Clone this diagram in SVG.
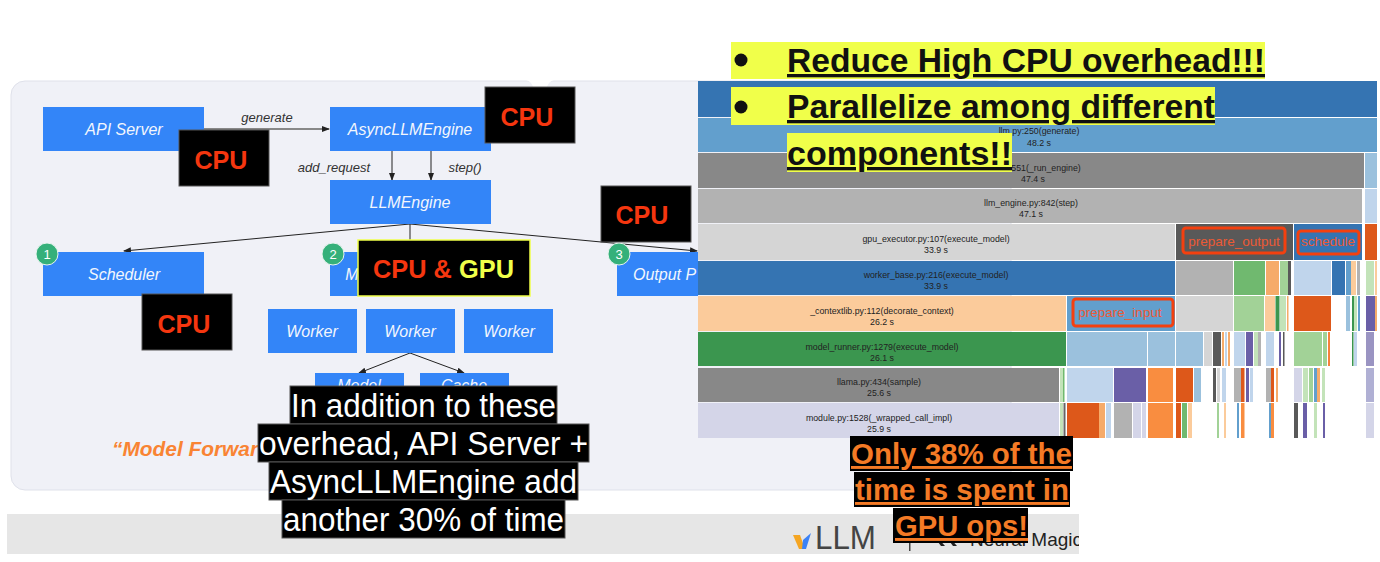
<svg xmlns="http://www.w3.org/2000/svg" width="1380" height="562" viewBox="0 0 1380 562">
<defs>
<marker id="ah" markerWidth="8" markerHeight="7" refX="7" refY="3" orient="auto" markerUnits="userSpaceOnUse"><path d="M0 0L8 3L0 6z" fill="#222"/></marker>
<clipPath id="foot"><rect x="7" y="514" width="1072" height="40"/></clipPath>
</defs>
<style>
text{font-family:"Liberation Sans",Arial,sans-serif}
.b{fill:#3385f8}
.n{fill:#f2f6fd;font-size:16px;font-style:italic;text-anchor:middle}
.e{fill:#333;font-size:13px;font-style:italic;text-anchor:middle}
.l{stroke:#222;stroke-width:1;fill:none;marker-end:url(#ah)}
.k{fill:#000;stroke:#555;stroke-width:1}
.c{fill:#f5360f;font-size:25px;font-weight:700;text-anchor:middle}
.w{fill:#fff;font-size:33px;text-anchor:middle}
.f{fill:#222;font-size:8.8px;text-anchor:middle}
.y{fill:#f0ff4a}
.h{fill:#111;font-size:33px;font-weight:700;text-decoration:underline}
.o{fill:#f47a25;font-size:29px;font-weight:700;text-decoration:underline;text-anchor:middle}
.r{fill:none;stroke:#f4400f;stroke-width:3}
.q{fill:#ec5a35;font-size:13.5px;text-anchor:middle}
.g{fill:#fff;font-size:13px;text-anchor:middle}
</style>
<rect width="1380" height="562" fill="#fff"/>
<rect x="11" y="81" width="1000" height="409" rx="14" fill="#f0f1f7" stroke="#dfe1ea"/>
<path d="M526 80Q532 81 534 90H546Q548 81 554 80z" fill="#fff"/>
<rect x="7" y="514" width="1072" height="40" fill="#e6e6e6"/>
<g id="vllm-logo"><text x="815" y="549" font-size="33" fill="#444" textLength="61" lengthAdjust="spacingAndGlyphs">LLM</text><path d="M793 535L800 535L805 549L799 549z" fill="#f5a623"/><path d="M811 533L806 549L802 549L803 540z" fill="#3b82f6"/></g>
<rect x="909" y="541" width="1.5" height="10" fill="#444"/>
<path d="M938 538L945 546H941L938 542zM950 538L957 546H953L950 542z" fill="#222"/>
<text id="neural-magic" x="1082" y="546" font-size="19" fill="#222" text-anchor="end" clip-path="url(#foot)">Neural Magic</text>
<g id="flame">
<rect x="698" y="81" width="679" height="36" fill="#3574b2"/>
<rect x="698" y="118" width="679" height="34" fill="#629fcd"/>
<rect x="698" y="153" width="666" height="35" fill="#888"/><rect x="1365" y="153" width="12" height="35" fill="#9bc1dd"/>
<rect x="698" y="189" width="664" height="34" fill="#b2b2b2"/><rect x="1365" y="189" width="12" height="34" fill="#c0d5ec"/>
<rect x="698" y="224" width="477" height="36" fill="#d5d5d5"/><rect x="1176" y="224" width="117" height="36" fill="#595959"/><rect x="1294" y="224" width="68" height="36" fill="#3574b2"/><rect x="1365" y="224" width="12" height="36" fill="#dd581a"/>
<rect x="698" y="261" width="477" height="34" fill="#3574b2"/><rect x="1176" y="261" width="57" height="34" fill="#b2b2b2"/><rect x="1234" y="261" width="31" height="34" fill="#70b96f"/><rect x="1266" y="261" width="13" height="34" fill="#f6ab6a"/><rect x="1280" y="261" width="8" height="34" fill="#a2d297"/><rect x="1288" y="261" width="3" height="34" fill="#595959"/><rect x="1294" y="261" width="37" height="34" fill="#c0d5ec"/><rect x="1332" y="261" width="13" height="34" fill="#3574b2"/><rect x="1346" y="261" width="5" height="34" fill="#629fcd"/><rect x="1351" y="261" width="5" height="34" fill="#fbcb9b"/><rect x="1357" y="261" width="3" height="34" fill="#b2b2b2"/><rect x="1366" y="261" width="8" height="34" fill="#c3e3b9"/><rect x="1375" y="261" width="2" height="34" fill="#fbcb9b"/>
<rect x="698" y="296" width="368" height="35" fill="#fbcb9b"/><rect x="1067" y="296" width="108" height="35" fill="#629fcd"/><rect x="1176" y="296" width="57" height="35" fill="#d5d5d5"/><rect x="1234" y="296" width="30" height="35" fill="#a2d297"/><rect x="1265" y="296" width="10" height="35" fill="#fbcb9b"/><rect x="1275.500" y="296" width="4" height="35" fill="#3b964f"/><rect x="1280" y="296" width="6" height="35" fill="#c3e3b9"/><rect x="1287" y="296" width="1.500" height="35" fill="#f6ab6a"/><rect x="1294" y="296" width="37" height="35" fill="#dd581a"/><rect x="1346" y="296" width="4" height="35" fill="#9bc1dd"/><rect x="1352" y="296" width="2" height="35" fill="#3b964f"/><rect x="1354" y="296" width="3" height="35" fill="#c3e3b9"/><rect x="1358" y="296" width="2" height="35" fill="#629fcd"/><rect x="1366" y="296" width="9" height="35" fill="#6a5fa7"/><rect x="1375" y="296" width="2" height="35" fill="#f6ab6a"/>
<rect x="698" y="332" width="368" height="34" fill="#3b964f"/><rect x="1067" y="332" width="80" height="34" fill="#9bc1dd"/><rect x="1148" y="332" width="27" height="34" fill="#9bc1dd"/><rect x="1176" y="332" width="27" height="34" fill="#9bc1dd"/><rect x="1204" y="332" width="8" height="34" fill="#d5d5d5"/><rect x="1213" y="332" width="8" height="34" fill="#595959"/><rect x="1222" y="332" width="2" height="34" fill="#f6ab6a"/><rect x="1225" y="332" width="2" height="34" fill="#c0d5ec"/><rect x="1228" y="332" width="2" height="34" fill="#f6ab6a"/><rect x="1234" y="332" width="11" height="34" fill="#c0d5ec"/><rect x="1246" y="332" width="7" height="34" fill="#6a5fa7"/><rect x="1254" y="332" width="4" height="34" fill="#c3e3b9"/><rect x="1258" y="332" width="3" height="34" fill="#b2b2b2"/><rect x="1266" y="332" width="8" height="34" fill="#c0d5ec"/><rect x="1279" y="332" width="2" height="34" fill="#6a5fa7"/><rect x="1283" y="332" width="1.500" height="34" fill="#595959"/><rect x="1294" y="332" width="28" height="34" fill="#a2d297"/><rect x="1323" y="332" width="4" height="34" fill="#a2d297"/><rect x="1328" y="332" width="2" height="34" fill="#f6813b"/><rect x="1352" y="332" width="1.500" height="34" fill="#3b964f"/><rect x="1354" y="332" width="3" height="34" fill="#c0d5ec"/><rect x="1366" y="332" width="8" height="34" fill="#9a94c2"/>
<rect x="698" y="368" width="361" height="34" fill="#888"/><rect x="1060" y="368" width="3" height="34" fill="#c3e3b9"/><rect x="1063" y="368" width="1.500" height="34" fill="#70b96f"/><rect x="1067" y="368" width="46" height="34" fill="#c0d5ec"/><rect x="1114" y="368" width="32" height="34" fill="#6a5fa7"/><rect x="1148" y="368" width="25" height="34" fill="#f98d40"/><rect x="1176" y="368" width="17" height="34" fill="#dd581a"/><rect x="1194" y="368" width="7" height="34" fill="#9bc1dd"/><rect x="1213" y="368" width="3" height="34" fill="#595959"/><rect x="1217" y="368" width="3" height="34" fill="#d5d5d5"/><rect x="1222" y="368" width="4" height="34" fill="#c0d5ec"/><rect x="1234" y="368" width="7" height="34" fill="#b2b2b2"/><rect x="1241" y="368" width="3.500" height="34" fill="#dd581a"/><rect x="1246" y="368" width="3" height="34" fill="#6a5fa7"/><rect x="1250" y="368" width="3" height="34" fill="#c0d5ec"/><rect x="1266" y="368" width="5" height="34" fill="#b2b2b2"/><rect x="1271" y="368" width="3" height="34" fill="#dd581a"/><rect x="1276" y="368" width="2" height="34" fill="#f6ab6a"/><rect x="1294" y="368" width="8" height="34" fill="#d4d5e8"/><rect x="1303" y="368" width="5" height="34" fill="#c3e3b9"/><rect x="1309" y="368" width="4" height="34" fill="#a2d297"/><rect x="1314" y="368" width="3" height="34" fill="#629fcd"/><rect x="1317" y="368" width="3" height="34" fill="#f6ab6a"/><rect x="1322" y="368" width="3" height="34" fill="#c3e3b9"/><rect x="1366" y="368" width="8" height="34" fill="#b0b0d4"/>
<rect x="698" y="403" width="361" height="35" fill="#d4d5e8"/><rect x="1060" y="403" width="3" height="35" fill="#c3e3b9"/><rect x="1063.500" y="403" width="2" height="35" fill="#666"/><rect x="1067" y="403" width="32" height="35" fill="#dd581a"/><rect x="1099" y="403" width="6" height="35" fill="#f6ab6a"/><rect x="1106" y="403" width="5" height="35" fill="#c0d5ec"/><rect x="1114" y="403" width="18" height="35" fill="#b2b2b2"/><rect x="1133" y="403" width="8" height="35" fill="#d4d5e8"/><rect x="1142" y="403" width="4" height="35" fill="#d4d5e8"/><rect x="1148" y="403" width="25" height="35" fill="#f98d40"/><rect x="1176" y="403" width="5" height="35" fill="#dd581a"/><rect x="1182" y="403" width="5" height="35" fill="#70b96f"/><rect x="1188" y="403" width="4" height="35" fill="#fbcb9b"/><rect x="1217" y="403" width="2" height="35" fill="#a2d297"/><rect x="1224" y="403" width="2" height="35" fill="#fbcb9b"/><rect x="1237" y="403" width="2" height="35" fill="#629fcd"/><rect x="1241" y="403" width="3.500" height="35" fill="#f98d40"/><rect x="1269" y="403" width="2" height="35" fill="#629fcd"/><rect x="1271" y="403" width="3" height="35" fill="#f98d40"/><rect x="1294" y="403" width="4" height="35" fill="#595959"/><rect x="1303" y="403" width="4" height="35" fill="#6a5fa7"/><rect x="1314" y="403" width="3" height="35" fill="#c3e3b9"/><rect x="1323" y="403" width="2" height="35" fill="#6a5fa7"/><rect x="1366" y="403" width="8" height="35" fill="#d4d5e8"/>
<text class="f" x="1039" y="134">llm.py:250(generate)</text><text class="f" x="1039" y="146">48.2 s</text>
<text class="f" x="1046" y="171">551(_run_engine)</text><text class="f" x="1033" y="182">47.4 s</text>
<text class="f" x="1031" y="206">llm_engine.py:842(step)</text><text class="f" x="1031" y="217">47.1 s</text>
<text class="f" x="936" y="242">gpu_executor.py:107(execute_model)</text><text class="f" x="936" y="253">33.9 s</text>
<text class="f" x="936" y="278">worker_base.py:216(execute_model)</text><text class="f" x="936" y="289">33.9 s</text>
<text class="f" x="882" y="314">_contextlib.py:112(decorate_context)</text><text class="f" x="882" y="325">26.2 s</text>
<text class="f" x="882" y="350">model_runner.py:1279(execute_model)</text><text class="f" x="882" y="361">26.1 s</text>
<text class="f" x="879" y="385">llama.py:434(sample)</text><text class="f" x="879" y="396">25.6 s</text>
<text class="f" x="879" y="421">module.py:1528(_wrapped_call_impl)</text><text class="f" x="879" y="432">25.9 s</text>
<rect class="r" x="1183" y="228" width="102" height="25" rx="3"/><text class="q" x="1234" y="246">prepare_output</text>
<rect class="r" x="1298" y="231" width="61" height="23" rx="3"/><text class="q" x="1328" y="246">schedule</text>
<rect class="r" x="1073" y="299" width="100" height="27" rx="3"/><text class="q" x="1120" y="317">prepare_input</text>
</g>
<g id="connectors">
<path d="M204 129H329" stroke="#888" stroke-width="2" fill="none" marker-end="url(#ah)"/>
<path class="l" d="M392 151V180"/><path class="l" d="M431 151V180"/>
<path class="l" d="M410 224L124 251"/><path d="M410 224V240" stroke="#222" fill="none"/><path class="l" d="M410 224L697 251"/>
<path class="l" d="M410 353L359 373"/><path class="l" d="M410 353L464 373"/>
<text class="e" x="267" y="122">generate</text><text class="e" x="334" y="172">add_request</text><text class="e" x="465" y="172">step()</text>
</g>
<g id="api-server"><rect class="b" x="43" y="107" width="161" height="44"/><text class="n" x="124" y="135">API Server</text></g>
<g id="async-engine"><rect class="b" x="330" y="107" width="161" height="44"/><text class="n" x="410" y="135">AsyncLLMEngine</text></g>
<g id="llm-engine"><rect class="b" x="330" y="180" width="161" height="44"/><text class="n" x="410" y="208">LLMEngine</text></g>
<g id="scheduler"><rect class="b" x="43" y="252" width="161" height="44"/><text class="n" x="124" y="280">Scheduler</text><circle cx="47" cy="254" r="11" fill="#35b07a" stroke="#e8f4ee"/><text class="g" x="47" y="259">1</text></g>
<g id="model-executor"><rect class="b" x="330" y="252" width="161" height="44"/><text class="n" x="352" y="280">M</text><circle cx="333" cy="254" r="11" fill="#35b07a" stroke="#e8f4ee"/><text class="g" x="333" y="259">2</text></g>
<g id="output"><rect class="b" x="617" y="252" width="81" height="44"/><text class="n" x="633" y="280" style="text-anchor:start">Output P</text><circle cx="619" cy="254" r="11" fill="#35b07a" stroke="#e8f4ee"/><text class="g" x="619" y="259">3</text></g>
<g id="worker-1"><rect class="b" x="268" y="309" width="89" height="44"/><text class="n" x="312" y="337">Worker</text></g>
<g id="worker-2"><rect class="b" x="366" y="309" width="89" height="44"/><text class="n" x="410" y="337">Worker</text></g>
<g id="worker-3"><rect class="b" x="464" y="309" width="89" height="44"/><text class="n" x="509" y="337">Worker</text></g>
<g id="model"><rect class="b" x="315" y="373" width="89" height="44"/><text class="n" x="359" y="391">Model</text></g>
<g id="cache"><rect class="b" x="420" y="373" width="89" height="44"/><text class="n" x="464" y="391">Cache</text></g>
<text x="112" y="456" font-size="21" font-weight="700" font-style="italic" fill="#f98433" textLength="146" lengthAdjust="spacingAndGlyphs">“Model Forwar</text>
<g id="cpu-1"><rect class="k" x="179" y="130" width="90" height="56"/><text class="c" x="221" y="169" textLength="53" lengthAdjust="spacingAndGlyphs">CPU</text></g>
<g id="cpu-2"><rect class="k" x="485" y="87" width="90" height="56"/><text class="c" x="527" y="126" textLength="53" lengthAdjust="spacingAndGlyphs">CPU</text></g>
<g id="cpu-3"><rect class="k" x="601" y="186" width="90" height="56"/><text class="c" x="642" y="224" textLength="53" lengthAdjust="spacingAndGlyphs">CPU</text></g>
<g id="cpu-4"><rect class="k" x="142" y="294" width="90" height="56"/><text class="c" x="184" y="333" textLength="53" lengthAdjust="spacingAndGlyphs">CPU</text></g>
<g id="cpu-gpu"><rect x="358" y="240" width="172" height="56" fill="#000" stroke="#f0ff4a" stroke-width="1.500"/><text x="373" y="278" font-size="25" font-weight="700" fill="#f5360f" textLength="141" lengthAdjust="spacingAndGlyphs">CPU &amp; <tspan fill="#f0ff4a">GPU</tspan></text></g>
<g id="overhead-note">
<rect class="k" x="290" y="386" width="267" height="38"/><rect class="k" x="258" y="424" width="331" height="38"/><rect class="k" x="269" y="462" width="309" height="38"/><rect class="k" x="282" y="500" width="283" height="38"/>
<text class="w" x="423.500" y="417" textLength="265" lengthAdjust="spacingAndGlyphs">In addition to these</text><text class="w" x="423.500" y="455" textLength="329" lengthAdjust="spacingAndGlyphs">overhead, API Server +</text><text class="w" x="423.500" y="493" textLength="307" lengthAdjust="spacingAndGlyphs">AsyncLLMEngine add</text><text class="w" x="423.500" y="531" textLength="281" lengthAdjust="spacingAndGlyphs">another 30% of time</text>
</g>
<g id="goals">
<rect class="y" x="731" y="42" width="534" height="37"/><rect class="y" x="731" y="87" width="484" height="38"/><rect class="y" x="787" y="133" width="225" height="39"/>
<circle cx="741" cy="60" r="6.500" fill="#111"/><circle cx="741" cy="107" r="6.500" fill="#111"/>
<text class="h" x="787" y="72" textLength="478" lengthAdjust="spacingAndGlyphs">Reduce High CPU overhead!!!</text><text class="h" x="787" y="118" textLength="428" lengthAdjust="spacingAndGlyphs">Parallelize among different</text><text class="h" x="787" y="165" textLength="225" lengthAdjust="spacingAndGlyphs">components!!</text>
</g>
<g id="gpu-note">
<rect x="850" y="436" width="223" height="35" fill="#000"/><rect x="854" y="472" width="216" height="35" fill="#000"/><rect x="893" y="508" width="135" height="35" fill="#000"/>
<text class="o" x="961.500" y="464" textLength="221" lengthAdjust="spacingAndGlyphs">Only 38% of the</text><text class="o" x="962" y="500" textLength="214" lengthAdjust="spacingAndGlyphs">time is spent in</text><text class="o" x="961.500" y="536" textLength="133" lengthAdjust="spacingAndGlyphs">GPU ops!</text>
</g>
</svg>
